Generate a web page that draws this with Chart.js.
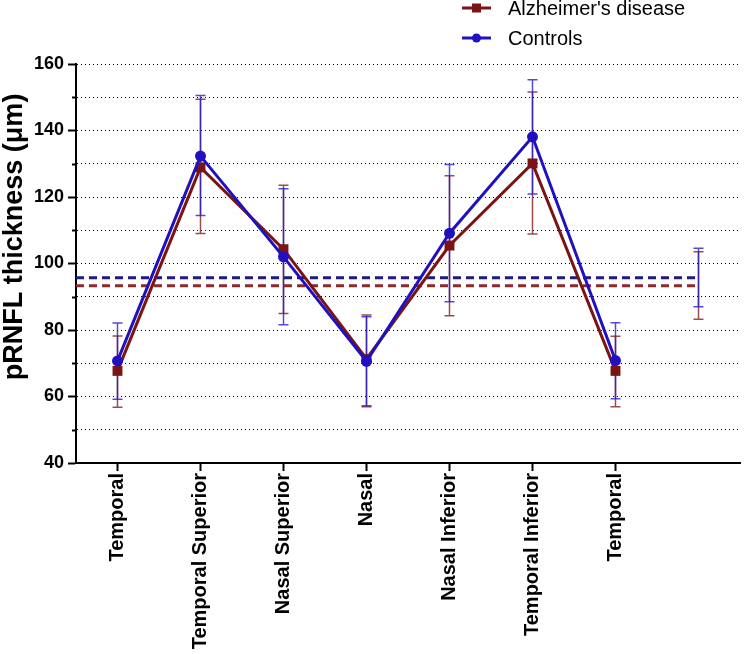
<!DOCTYPE html>
<html>
<head>
<meta charset="utf-8">
<script src="https://cdn.jsdelivr.net/npm/chart.js@4.4.0/dist/chart.umd.min.js"></script>
<style>
  body { margin: 0; background: #fff; }
</style>
</head>
<body>
<canvas id="myChart" width="747" height="654"></canvas>
<script>
const labels = ["Temporal", "Temporal Superior", "Nasal Superior", "Nasal", "Nasal Inferior", "Temporal Inferior", "Temporal"];

// Alzheimer's disease: mean and error bar ends per sector
const adMean = [67.7, 128.9, 104.3, 71.3, 105.4, 130.1, 67.7];
const adUpper = [78.2, 149.4, 123.5, 84.5, 126.4, 151.6, 78.1];
const adLower = [56.8, 109.0, 85.0, 56.9, 84.3, 108.9, 56.9];

// Controls
const ctlMean = [70.7, 132.3, 102.0, 70.6, 109.1, 138.1, 70.8];
const ctlUpper = [82.1, 150.5, 122.5, 84.0, 129.8, 155.3, 82.2];
const ctlLower = [59.2, 114.4, 81.6, 57.2, 88.5, 120.9, 59.3];

// overall average thickness (dashed lines) with its error bar
const adAvg = [93.3, 103.5, 83.2];   // mean, upper, lower
const ctlAvg = [95.7, 104.6, 87.0];

const yTicks = [40, 60, 80, 100, 120, 140, 160];
const yTitle = "pRNFL thickness (\u03bcm)";

const family = "'Liberation Sans', Arial, Helvetica, sans-serif";
const AD_COLOR = "#7b1414";
const CTL_COLOR = "#2010c0";

const toPoints = (arr) => arr.map((v, i) => ({ x: i, y: v }));
const avgX = labels.length; // slot after the last sector

const errorBars = {
  id: "errorBars",
  beforeDatasetsDraw(chart) {
    const { ctx, scales: { x, y } } = chart;
    const sets = [
      { lo: adLower.concat(adAvg[2]), hi: adUpper.concat(adAvg[1]), color: "rgba(130,30,30,0.8)" },
      { lo: ctlLower.concat(ctlAvg[2]), hi: ctlUpper.concat(ctlAvg[1]), color: "rgba(40,30,200,0.8)" },
    ];
    ctx.save();
    ctx.lineWidth = 1.5;
    sets.forEach((s) => {
      ctx.strokeStyle = s.color;
      s.lo.forEach((lo, i) => {
        const px = x.getPixelForValue(i);
        const top = y.getPixelForValue(s.hi[i]);
        const bot = y.getPixelForValue(lo);
        ctx.beginPath();
        ctx.moveTo(px, top); ctx.lineTo(px, bot);
        ctx.moveTo(px - 5, top); ctx.lineTo(px + 5, top);
        ctx.moveTo(px - 5, bot); ctx.lineTo(px + 5, bot);
        ctx.stroke();
      });
    });
    ctx.restore();
  },
};

// short minor ticks on the y axis + axis title (sits a bit above centre)
const yAxisExtras = {
  id: "yAxisExtras",
  afterDraw(chart) {
    const { ctx, scales: { y } } = chart;
    ctx.save();
    ctx.strokeStyle = "#000";
    ctx.lineWidth = 2;
    for (let v = y.min + 10; v < y.max; v += 20) {
      const py = Math.round(y.getPixelForValue(v)) + 0.5;
      ctx.beginPath();
      ctx.moveTo(y.right - 4, py);
      ctx.lineTo(y.right, py);
      ctx.stroke();
    }
    ctx.translate(15, y.getPixelForValue(108));
    ctx.rotate(-Math.PI / 2);
    ctx.font = "bold 27px " + family;
    ctx.fillStyle = "#000";
    ctx.textAlign = "center";
    ctx.textBaseline = "middle";
    ctx.fillText(yTitle, 0, 0);
    ctx.restore();
  },
};

const legendBox = {
  id: "legendBox",
  afterDraw(chart) {
    const { ctx } = chart;
    const items = chart.data.datasets.filter((d) => d.inLegend);
    ctx.save();
    ctx.font = "20px " + family;
    ctx.textBaseline = "middle";
    items.forEach((d, i) => {
      const cy = 8 + i * 30;
      ctx.strokeStyle = d.borderColor;
      ctx.fillStyle = d.borderColor;
      ctx.lineWidth = 3;
      ctx.beginPath();
      ctx.moveTo(462, cy); ctx.lineTo(491, cy);
      ctx.stroke();
      if (d.pointStyle === "rect") {
        ctx.fillRect(472, cy - 4.5, 9, 9);
      } else {
        ctx.beginPath();
        ctx.arc(476.5, cy, 4.5, 0, Math.PI * 2);
        ctx.fill();
      }
      ctx.fillStyle = "#000";
      ctx.fillText(d.label, 508, cy + 1);
    });
    ctx.restore();
  },
};

new Chart(document.getElementById("myChart"), {
  type: "line",
  data: {
    datasets: [
      {
        label: "Alzheimer's disease",
        inLegend: true,
        data: toPoints(adMean),
        borderColor: AD_COLOR,
        backgroundColor: AD_COLOR,
        borderWidth: 3,
        pointStyle: "rect",
        pointRadius: 7,
        pointBorderWidth: 0,
        order: 2,
      },
      {
        label: "Controls",
        inLegend: true,
        data: toPoints(ctlMean),
        borderColor: CTL_COLOR,
        backgroundColor: CTL_COLOR,
        borderWidth: 3,
        pointStyle: "circle",
        pointRadius: 5.5,
        pointBorderWidth: 0,
        order: 1,
      },
      {
        label: "Controls average",
        data: [{ x: -0.5, y: ctlAvg[0] }, { x: avgX, y: ctlAvg[0] }],
        borderColor: "#1e1a80",
        borderWidth: 3,
        borderDash: [8, 5],
        pointRadius: 0,
        order: 3,
      },
      {
        label: "AD average",
        data: [{ x: -0.5, y: adAvg[0] }, { x: avgX, y: adAvg[0] }],
        borderColor: "#8b2a2a",
        borderWidth: 3,
        borderDash: [8, 5],
        pointRadius: 0,
        order: 4,
      },
    ],
  },
  options: {
    responsive: false,
    animation: false,
    layout: { padding: { top: 64, right: 2, left: 0, bottom: 0 } },
    plugins: {
      legend: { display: false },
      tooltip: { enabled: false },
    },
    scales: {
      x: {
        type: "linear",
        min: -0.5,
        max: labels.length + 0.5,
        afterBuildTicks: (s) => { s.ticks = labels.map((_, i) => ({ value: i })); },
        afterFit: (s) => { s.height = 191; },
        ticks: {
          autoSkip: false,
          maxRotation: 90,
          minRotation: 90,
          padding: 2,
          color: "#000",
          font: { family, size: 20, weight: "bold" },
          callback: (v) => labels[v] ?? "",
        },
        grid: { drawOnChartArea: false, tickLength: 8, tickWidth: 2, tickColor: "#000" },
        border: { color: "#000", width: 2 },
      },
      y: {
        min: 40,
        max: 160,
        afterBuildTicks: (s) => {
          const t = [];
          for (let v = 40; v <= 160; v += 10) t.push({ value: v });
          s.ticks = t;
        },
        afterFit: (s) => { s.width = 76; },
        ticks: {
          padding: 4,
          color: "#000",
          font: { family, size: 18, weight: "bold" },
          callback: (v) => (yTicks.includes(v) ? v : ""),
        },
        grid: {
          color: (c) => (c.tick && c.tick.value === 40 ? "transparent" : "#000"),
          lineWidth: 1,
          tickLength: 8,
          tickWidth: 2,
          tickColor: (c) => (c.tick && yTicks.includes(c.tick.value) ? "#000" : "transparent"),
        },
        border: { color: "#000", width: 2, dash: [1, 3] },
        title: { display: false },
      },
    },
  },
  plugins: [errorBars, yAxisExtras, legendBox],
});
</script>
</body>
</html>
